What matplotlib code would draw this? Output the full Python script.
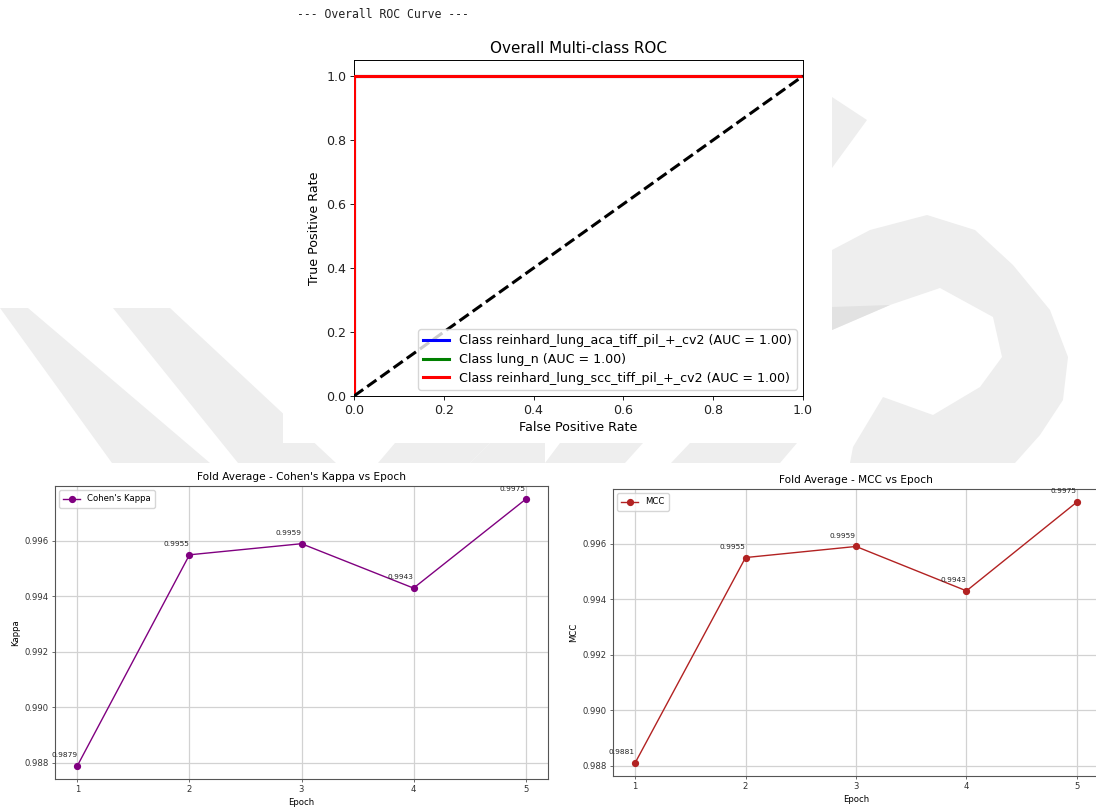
import matplotlib
matplotlib.use("Agg")
import matplotlib.pyplot as plt
from matplotlib.patches import Polygon, Rectangle
from matplotlib.ticker import MultipleLocator

# ---- data ----
class_names = ["reinhard_lung_aca_tiff_pil_+_cv2", "lung_n", "reinhard_lung_scc_tiff_pil_+_cv2"]
class_colors = ["blue", "green", "red"]
class_auc = [1.00, 1.00, 1.00]
roc_fpr = [[0.0, 0.0, 1.0], [0.0, 0.0, 1.0], [0.0, 0.0, 1.0]]
roc_tpr = [[0.0, 1.0, 1.0], [0.0, 1.0, 1.0], [0.0, 1.0, 1.0]]

epochs = [1, 2, 3, 4, 5]
kappa = [0.9879, 0.9955, 0.9959, 0.9943, 0.9975]
mcc = [0.9881, 0.9955, 0.9959, 0.9943, 0.9975]

W, H = 1096, 809
fig = plt.figure(figsize=(W / 100, H / 100), dpi=100)
fig.patch.set_facecolor("white")


def px_rect(x0, y0, x1, y1):
    return [x0 / W, 1 - y1 / H, (x1 - x0) / W, (y1 - y0) / H]


# ---- page background with faint watermark ----
bg = fig.add_axes([0, 0, 1, 1], zorder=-10)
bg.set_xlim(0, W)
bg.set_ylim(H, 0)
bg.axis("off")
wm = "#eeeeee"
shapes = [
    [(0, 308), (28, 308), (210, 463), (112, 463)],
    [(113, 308), (170, 308), (336, 463), (238, 463)],
    [(395, 443), (490, 443), (470, 463), (378, 463)],
    [(490, 443), (545, 443), (545, 463), (470, 463)],
    [(560, 443), (643, 443), (625, 463), (545, 463)],
    [(690, 443), (797, 443), (780, 463), (671, 463)],
    [(832, 97), (867, 120), (832, 168)],
    [(832, 250), (870, 230), (927, 215), (975, 230), (1013, 265), (1050, 310),
     (1068, 357), (1063, 400), (1040, 435), (1015, 463), (850, 463),
     (853, 447), (883, 397), (933, 415), (980, 387), (1002, 357), (993, 317),
     (940, 288), (890, 305), (832, 330)],
]
for pts in shapes:
    bg.add_patch(Polygon(pts, closed=True, facecolor=wm, edgecolor="none", zorder=1))
bg.add_patch(Polygon([(832, 307), (890, 305), (832, 330)], closed=True,
                     facecolor="#e2e2e2", edgecolor="none", zorder=1))
bg.add_patch(Rectangle((283, 0), 549, 443, facecolor="white", edgecolor="none", zorder=2))
bg.add_patch(Rectangle((0, 463), W, 340, facecolor="white", edgecolor="none", zorder=2))

fig.text(297 / W, 1 - 15 / H, "--- Overall ROC Curve ---", family="DejaVu Sans Mono",
         fontsize=8.3, color="#222222", va="center", ha="left")

# ---- ROC ----
roc_fs = 9.1
ax = fig.add_axes(px_rect(354, 60, 803, 396))
for name, col, auc, fx, ty in zip(class_names, class_colors, class_auc, roc_fpr, roc_tpr):
    ax.plot(fx, ty, color=col, lw=2.2, zorder=3, label=f"Class {name} (AUC = {auc:.2f})")
ax.plot([0, 1], [0, 1], "k--", lw=2.2, zorder=3)
ax.set_xlim(0.0, 1.0)
ax.set_ylim(0.0, 1.05)
ax.set_xlabel("False Positive Rate", fontsize=roc_fs, labelpad=3)
ax.set_ylabel("True Positive Rate", fontsize=roc_fs, labelpad=4)
ax.set_title("Overall Multi-class ROC", fontsize=10.9, pad=5)
ax.tick_params(labelsize=roc_fs, width=0.7, length=3.2, pad=2.5, colors="#222222")
for s in ax.spines.values():
    s.set_linewidth(0.7)
ax.legend(loc="lower right", fontsize=roc_fs, handlelength=2.0, borderpad=0.4,
          labelspacing=0.45, framealpha=0.8)


# ---- fold-average metric curves ----
def metric_panel(rect, values, color, label, title, ylabel):
    a = fig.add_axes(px_rect(*rect))
    a.plot(epochs, values, marker="o", color=color, lw=1.0, ms=4.2, label=label)
    for e, v in zip(epochs, values):
        a.annotate(f"{v:.4f}", (e, v), xytext=(0, 5.5), textcoords="offset points",
                   ha="right", va="bottom", fontsize=5.3, color="#222222")
    a.set_title(title, fontsize=7.6, pad=4)
    a.set_xlabel("Epoch", fontsize=6.1, labelpad=2.5)
    a.set_ylabel(ylabel, fontsize=6.1, labelpad=3)
    a.set_xticks(epochs)
    a.yaxis.set_major_locator(MultipleLocator(0.002))
    a.ticklabel_format(axis="y", useOffset=False)
    a.tick_params(labelsize=6.1, width=0.5, length=2.5, pad=2, colors="#333333")
    a.grid(True, color="#d2d2d2", lw=0.9)
    for s in a.spines.values():
        s.set_linewidth(0.8)
        s.set_color("#555555")
    a.legend(loc="upper left", fontsize=6.1, handlelength=2.0, borderpad=0.5)
    return a


metric_panel((55, 486, 548, 779), kappa, "purple", "Cohen's Kappa",
             "Fold Average - Cohen's Kappa vs Epoch", "Kappa")
metric_panel((613, 489, 1099, 776), mcc, "firebrick", "MCC",
             "Fold Average - MCC vs Epoch", "MCC")

fig.savefig("out.png", dpi=100, facecolor="white")
